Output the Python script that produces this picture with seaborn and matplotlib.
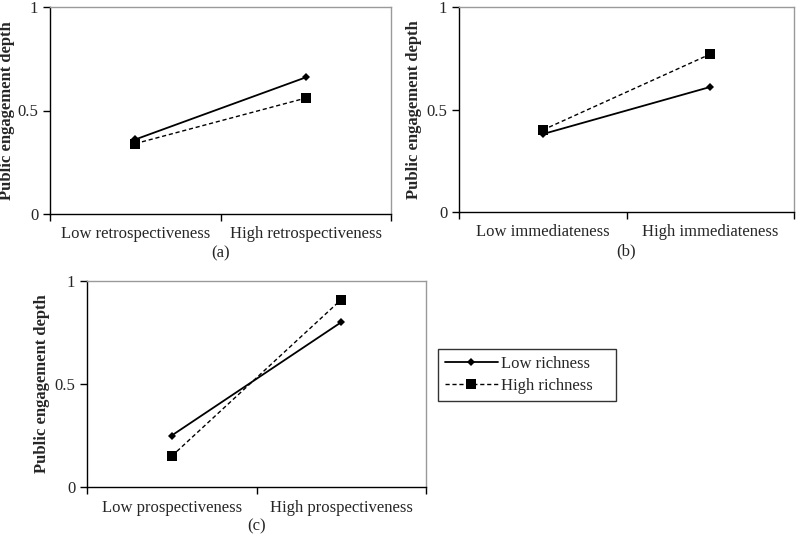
import numpy as np
import pandas as pd
import matplotlib
matplotlib.use('Agg')
import matplotlib.pyplot as plt
import seaborn as sns

# 데이터
panel_tags = ['(a)', '(b)', '(c)']
x_cats_a = ['Low retrospectiveness', 'High retrospectiveness']
x_cats_b = ['Low immediateness', 'High immediateness']
x_cats_c = ['Low prospectiveness', 'High prospectiveness']
low_rich_a = [0.36, 0.66]
high_rich_a = [0.34, 0.56]
low_rich_b = [0.38, 0.61]
high_rich_b = [0.40, 0.77]
low_rich_c = [0.25, 0.80]
high_rich_c = [0.15, 0.91]
series_names = ['Low richness', 'High richness']
y_label = 'Public engagement depth'
y_ticks = [0, 0.5, 1]

sns.set_style('white')
plt.rcParams['font.family'] = ['Liberation Serif', 'DejaVu Serif']

W, H = 797, 535
fig = plt.figure(figsize=(W / 100, H / 100), dpi=100)

def box(left, top, right, bottom):
    return [left / W, 1 - bottom / H, (right - left) / W, (bottom - top) / H]

def draw_panel(ax, cats, low, high, tag, label_x):
    df = pd.DataFrame({'x': cats * 2, 'y': low + high,
                       'richness': [series_names[0]] * 2 + [series_names[1]] * 2})
    d0 = df[df['richness'] == series_names[0]]
    d1 = df[df['richness'] == series_names[1]]
    sns.lineplot(data=d0, x='x', y='y', ax=ax, color='black', linewidth=1.3,
                 marker='D', markersize=4.5, markeredgewidth=0, legend=False,
                 label=series_names[0])
    sns.lineplot(data=d1, x='x', y='y', ax=ax, color='black', linewidth=1.0,
                 linestyle=(0, (3, 2)), marker='s', markersize=6.5, markeredgewidth=0,
                 legend=False, label=series_names[1])
    ax.set_xlim(-0.5, 1.5)
    ax.set_ylim(0, 1)
    ax.set_xticks([0, 1])
    ax.set_xticklabels(cats, fontsize=12)
    ax.set_xticks([-0.5, 0.5, 1.5], minor=True)
    ax.tick_params(axis='x', which='major', length=0, pad=9)
    ax.tick_params(axis='x', which='minor', length=5, width=1, color='black', direction='out', bottom=True)
    ax.set_yticks(y_ticks)
    ax.set_yticklabels(['0', '0.5', '1'], fontsize=12)
    ax.tick_params(axis='y', length=5, width=1, color='black', direction='out', left=True, pad=3.5)
    ax.set_xlabel(tag, fontsize=12, labelpad=2)
    ax.set_ylabel(y_label, fontsize=12, fontweight='bold')
    # 축 라벨 위치 (픽셀 기준)
    bb = ax.get_position()
    ax.yaxis.set_label_coords((label_x / W - bb.x0) / bb.width, 0.5)
    for s in ['left', 'bottom']:
        ax.spines[s].set_color('black')
        ax.spines[s].set_linewidth(1)
    for s in ['top', 'right']:
        ax.spines[s].set_color('#9a9a9a')
        ax.spines[s].set_linewidth(1)

ax_a = fig.add_axes(box(50, 7, 391, 214))
ax_b = fig.add_axes(box(459, 7, 794, 212))
ax_c = fig.add_axes(box(87, 281, 426, 487))

draw_panel(ax_a, x_cats_a, low_rich_a, high_rich_a, panel_tags[0], 15)
draw_panel(ax_b, x_cats_b, low_rich_b, high_rich_b, panel_tags[1], 422)
draw_panel(ax_c, x_cats_c, low_rich_c, high_rich_c, panel_tags[2], 50)

handles = ax_c.get_lines()[:2]
leg = fig.legend(handles, [n + '    ' for n in series_names], loc='center left',
                 bbox_to_anchor=(438 / W, 1 - 375 / H), fontsize=12,
                 frameon=True, fancybox=False, edgecolor='black',
                 handlelength=3.2, handletextpad=0.2, borderpad=0.4,
                 borderaxespad=0, labelspacing=0.35)
leg.get_frame().set_linewidth(1)

fig.savefig('out.png', dpi=100)
